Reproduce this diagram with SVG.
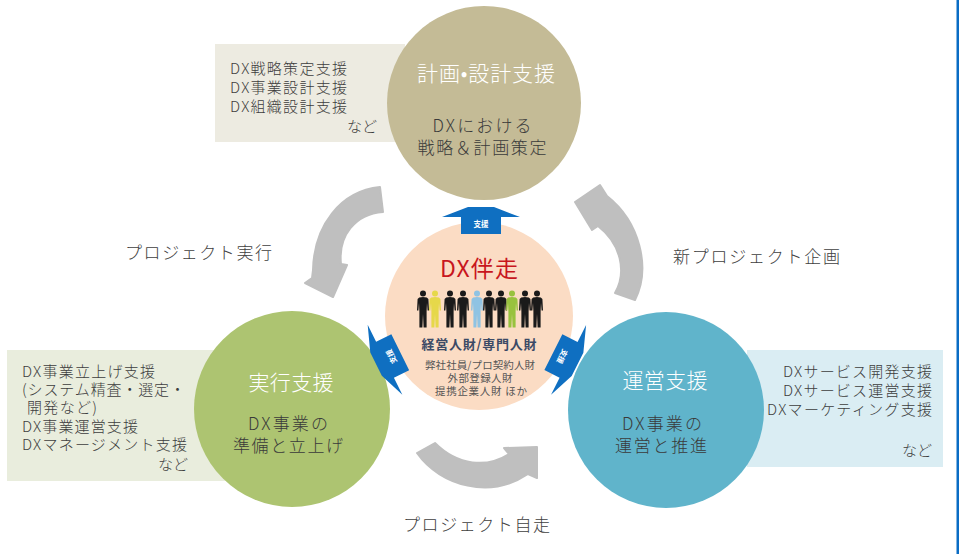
<svg xmlns="http://www.w3.org/2000/svg" xmlns:xlink="http://www.w3.org/1999/xlink" width="959" height="554" viewBox="0 0 959 554">
  <style>
    text { font-family: "Noto Sans CJK JP", "Noto Sans", sans-serif; font-weight: 300; }
    .box-txt { font-size: 15px; fill: #3d3d3d; }
    .title { font-size: 21px; fill: #ffffff; text-anchor: middle; }
    .sub { font-size: 17px; fill: #3a3a3a; text-anchor: middle; }
    .flow { font-size: 17px; fill: #404040; }
    .gray-arrow { fill: #bfbfbf; stroke: #bfbfbf; stroke-width: 2; stroke-linejoin: round; }
    .blue-arrow { fill: #0f6fc1; }
    .tag { font-size: 7.5px; font-weight: bold; fill: #ffffff; text-anchor: middle; }
    .hub-title { font-size: 23px; font-weight: 400; fill: #c8161d; text-anchor: middle; }
    .hub-staff { font-size: 13px; font-weight: bold; fill: #3b4a66; text-anchor: middle; }
    .ctr-small { font-size: 10.5px; font-weight: 400; fill: #555555; text-anchor: middle; }
  </style>
  <defs>
    <!-- support arrow, pointing up, centred on the origin -->
    <path id="supportArrow" d="M -13,-14 L 13,-14 L 39,-4 L 20,-4 L 20,13 L -20,13 L -20,-4 L -39,-4 Z"/>
    <!-- standing person silhouette -->
    <symbol id="person" viewBox="0 0 12 38" width="12" height="38" overflow="visible">
      <circle cx="6" cy="3.4" r="3"/>
      <path d="M2.2,7.6 Q6,6.2 9.8,7.6 L11.4,9 L12,20.5 L10.6,20.5 L10,13 L9.6,21.5 L9.6,37.5 L6.6,37.5 L6,24 L5.4,37.5 L2.4,37.5 L2.4,21.5 L2,13 L1.4,20.5 L0,20.5 L0.6,9 Z"/>
    </symbol>
  </defs>

  <rect width="959" height="554" fill="#ffffff"/>

  <!-- description boxes -->
  <g id="box-plan">
    <rect x="215" y="44" width="190" height="98" fill="#edebe1"/>
    <text class="box-txt" x="230" y="74" textLength="117" lengthAdjust="spacing">DX戦略策定支援</text>
    <text class="box-txt" x="230" y="93" textLength="117" lengthAdjust="spacing">DX事業設計支援</text>
    <text class="box-txt" x="230" y="112" textLength="117" lengthAdjust="spacing">DX組織設計支援</text>
    <text class="box-txt" x="377" y="132" text-anchor="end" textLength="30" lengthAdjust="spacing">など</text>
  </g>
  <g id="box-exec">
    <rect x="7" y="350" width="230" height="131" fill="#e9eddd"/>
    <text class="box-txt" x="22" y="377" textLength="133" lengthAdjust="spacing">DX事業立上げ支援</text>
    <text class="box-txt" x="22" y="395" textLength="163" lengthAdjust="spacing">(システム精査・選定・</text>
    <text class="box-txt" x="27" y="413" textLength="70" lengthAdjust="spacing">開発など)</text>
    <text class="box-txt" x="22" y="432" textLength="116" lengthAdjust="spacing">DX事業運営支援</text>
    <text class="box-txt" x="22" y="450" textLength="165" lengthAdjust="spacing">DXマネージメント支援</text>
    <text class="box-txt" x="188" y="470" text-anchor="end" textLength="30" lengthAdjust="spacing">など</text>
  </g>
  <g id="box-ops">
    <rect x="747" y="350" width="196" height="117" fill="#daedf3"/>
    <text class="box-txt" x="932" y="377" text-anchor="end" textLength="149" lengthAdjust="spacing">DXサービス開発支援</text>
    <text class="box-txt" x="932" y="396" text-anchor="end" textLength="149" lengthAdjust="spacing">DXサービス運営支援</text>
    <text class="box-txt" x="932" y="415" text-anchor="end" textLength="165" lengthAdjust="spacing">DXマーケティング支援</text>
    <text class="box-txt" x="932" y="456" text-anchor="end" textLength="30" lengthAdjust="spacing">など</text>
  </g>

  <!-- circular flow connectors -->
  <g id="connectors">
    <path class="gray-arrow" d="M 380,187 C 340,191 314,226 313,270 L 312,278 L 305,283 L 333,297 L 347,265 L 341,264 C 338,236 355,214 383,212 Z"/>
    <path class="gray-arrow" d="M 600,185 L 575,202 L 592,230 L 598,226 C 621,244 627,272 615,293 L 635,300 C 651,268 640,222 607,196 Z"/>
    <path class="gray-arrow" d="M 417,453 C 441,487 491,499 528,474 L 537,478 L 537,447 L 504,448 L 509,454 C 487,468 458,466 435,443 Z"/>
  </g>
  <g id="flow-labels">
    <text class="flow" x="125" y="259" textLength="147" lengthAdjust="spacing">プロジェクト実行</text>
    <text class="flow" x="673" y="263" textLength="167" lengthAdjust="spacing">新プロジェクト企画</text>
    <text class="flow" x="403" y="531" textLength="147" lengthAdjust="spacing">プロジェクト自走</text>
  </g>

  <!-- stage circles -->
  <g id="node-plan">
    <circle cx="484" cy="103" r="97" fill="#c4bb96"/>
    <text class="title" x="486" y="81" font-size="20" textLength="138" lengthAdjust="spacing">計画•設計支援</text>
    <text class="sub" x="482" y="132" textLength="99" lengthAdjust="spacing">DXにおける</text>
    <text class="sub" x="482" y="154" textLength="129" lengthAdjust="spacing">戦略＆計画策定</text>
  </g>
  <g id="node-exec">
    <circle cx="292" cy="409" r="98" fill="#adc471"/>
    <text class="title" x="291" y="390" textLength="85" lengthAdjust="spacing">実行支援</text>
    <text class="sub" x="288" y="430" textLength="80" lengthAdjust="spacing">DX事業の</text>
    <text class="sub" x="288" y="452" textLength="110" lengthAdjust="spacing">準備と立上げ</text>
  </g>
  <g id="node-ops">
    <circle cx="666" cy="410" r="98" fill="#60b4cb"/>
    <text class="title" x="665" y="388" textLength="85" lengthAdjust="spacing">運営支援</text>
    <text class="sub" x="662" y="430" textLength="80" lengthAdjust="spacing">DX事業の</text>
    <text class="sub" x="661" y="452" textLength="92" lengthAdjust="spacing">運営と推進</text>
  </g>

  <!-- central support hub -->
  <g id="node-hub">
    <circle cx="479" cy="316" r="94" fill="#fbdcc4"/>
    <text class="hub-title" x="479" y="277" textLength="78" lengthAdjust="spacing">DX伴走</text>
    <g id="people">
      <use xlink:href="#person" x="417" y="290" fill="#1a1a1a"/>
      <use xlink:href="#person" x="429" y="290" fill="#e6d84a"/>
      <use xlink:href="#person" x="444" y="290" fill="#1a1a1a"/>
      <use xlink:href="#person" x="457" y="290" fill="#1a1a1a"/>
      <use xlink:href="#person" x="471" y="290" fill="#8fc3e3"/>
      <use xlink:href="#person" x="483" y="290" fill="#1a1a1a"/>
      <use xlink:href="#person" x="495" y="290" fill="#1a1a1a"/>
      <use xlink:href="#person" x="506" y="290" fill="#98c23e"/>
      <use xlink:href="#person" x="519" y="290" fill="#1a1a1a"/>
      <use xlink:href="#person" x="531" y="290" fill="#1a1a1a"/>
    </g>
    <text class="hub-staff" x="479" y="349" textLength="115" lengthAdjust="spacing">経営人財/専門人財</text>
    <text class="ctr-small" x="480" y="369" textLength="110" lengthAdjust="spacing">弊社社員/プロ契約人財</text>
    <text class="ctr-small" x="480" y="382" textLength="65" lengthAdjust="spacing">外部登録人財</text>
    <text class="ctr-small" x="481" y="395" textLength="92" lengthAdjust="spacing">提携企業人財 ほか</text>
  </g>

  <!-- support arrows from the hub -->
  <g id="support-up" transform="translate(481,221)">
    <use xlink:href="#supportArrow" class="blue-arrow"/>
    <text class="tag" x="0" y="6">支援</text>
  </g>
  <g id="support-left" transform="translate(388.6,358) rotate(-116.4)">
    <use xlink:href="#supportArrow" class="blue-arrow"/>
    <text class="tag" x="0" y="6">支援</text>
  </g>
  <g id="support-right" transform="translate(565,358) rotate(116.7)">
    <use xlink:href="#supportArrow" class="blue-arrow"/>
    <text class="tag" x="0" y="6">支援</text>
  </g>

  <!-- page edge rule -->
  <rect x="956.5" y="0" width="2.5" height="554" fill="#0a6cc4"/>
</svg>
